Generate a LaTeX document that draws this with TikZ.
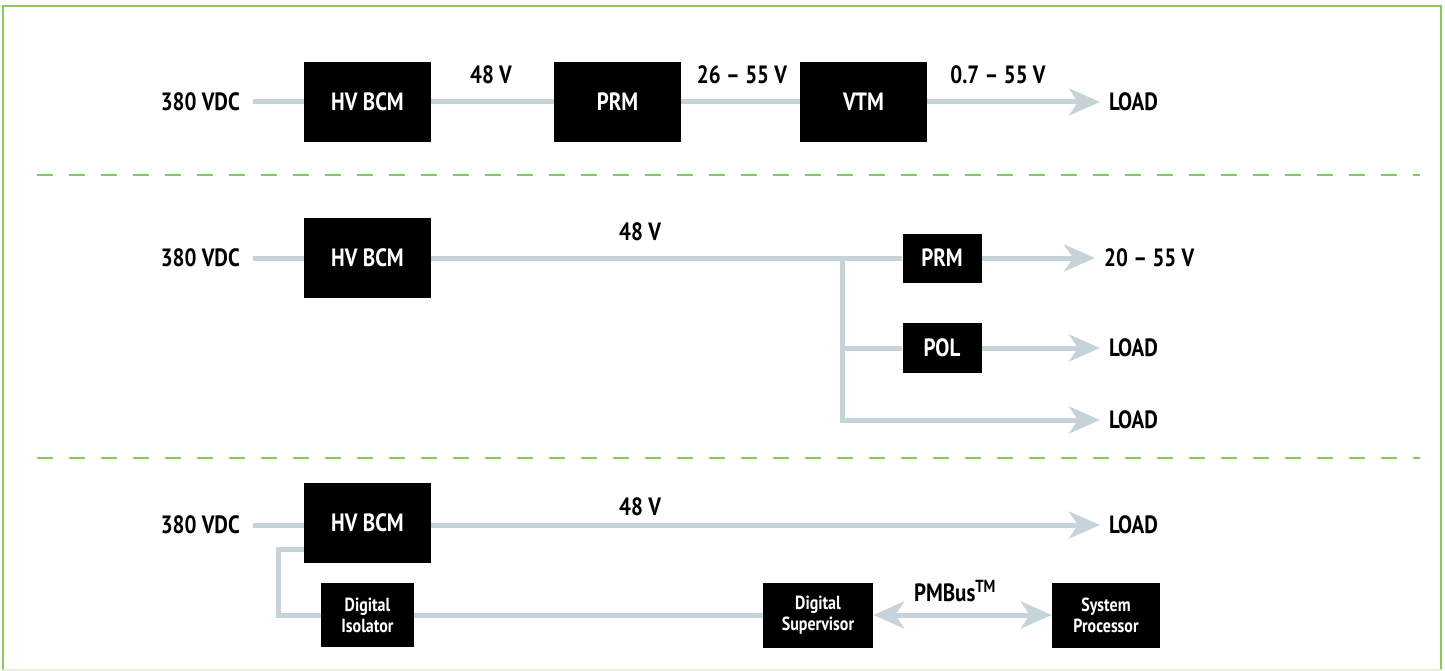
\documentclass[tikz,border=0pt]{standalone}
\usepackage{fontspec}
\setmainfont{PT Sans}[FakeStretch=0.84]
\usetikzlibrary{arrows.meta}
\definecolor{wire}{HTML}{C6D3D8}
\definecolor{frame}{HTML}{86C95E}
\definecolor{framelt}{HTML}{E6F3DC}
\begin{document}
\begin{tikzpicture}[x=1pt,y=-1pt,
  blk/.style={fill=black,text=white,font=\fontsize{25}{28}\selectfont\bfseries,inner sep=0pt,minimum width=127pt,minimum height=80pt,align=center},
  sblk/.style={fill=black,text=white,font=\fontsize{19}{21}\selectfont\bfseries,inner sep=0pt,align=center},
  lbl/.style={font=\fontsize{25}{28}\selectfont\bfseries,inner sep=0pt},
  wireline/.style={draw=wire,line width=5pt},
  arr/.style={wireline,-{Stealth[length=31pt,width=27pt,inset=9pt]}},
  darr/.style={wireline,{Stealth[length=31pt,width=27pt,inset=9pt]}-{Stealth[length=31pt,width=27pt,inset=9pt]}},
  sep/.style={draw=frame,line width=1.5pt,dash pattern=on 16pt off 16pt}
  ]
\useasboundingbox (0,0) rectangle (1445,671);
% frame
\draw[frame,line width=2pt] (2.5,670) -- (2.5,6.5) -- (1440.5,6.5) -- (1440.5,670);
\draw[framelt,line width=1.5pt] (2.5,670) -- (1440.5,670);
% separators
\coordinate (s1a) at (37,175); \coordinate (s1b) at (1420,175);
\coordinate (s2a) at (37,458); \coordinate (s2b) at (1420,458);
\draw[sep] (s1a) -- (s1b);
\draw[sep] (s2a) -- (s2b);

% ---------- row 1 ----------
\node[lbl,anchor=east] (in1) at (240,102) {380 VDC};
\node[blk] (b1) at (367.5,102) {HV BCM};
\node[blk] (p1) at (617.5,102) {PRM};
\node[blk] (v1) at (863.5,102) {VTM};
\node[lbl,anchor=west] (o1) at (1109,102) {LOAD};
\node[lbl] (l1a) at (491,75) {48 V};
\node[lbl] (l1b) at (742,75) {26 – 55 V};
\node[lbl] (l1c) at (998,75) {0.7 – 55 V};
\draw[wireline,shorten <=13pt] (in1.east) -- (b1.west);
\draw[wireline] (b1.east) -- (p1.west);
\draw[wireline] (p1.east) -- (v1.west);
\draw[arr,shorten >=9pt] (v1.east) -- (o1.west);

% ---------- row 2 ----------
\node[lbl,anchor=east] (in2) at (240,258) {380 VDC};
\node[blk] (b2) at (367.5,258) {HV BCM};
\node[lbl] (l2a) at (640,232) {48 V};
\node[blk,minimum width=79pt,minimum height=49pt] (p2) at (942,258) {PRM};
\node[blk,minimum width=79pt,minimum height=50pt] (pol) at (942,348) {POL};
\coordinate (br) at (842,258);
\coordinate (brb) at (842,420);
\node[lbl,anchor=west] (o2a) at (1104,258) {20 – 55 V};
\node[lbl,anchor=west] (o2b) at (1109,348) {LOAD};
\node[lbl,anchor=west] (o2c) at (1109,420) {LOAD};
\draw[wireline,shorten <=13pt] (in2.east) -- (b2.west);
\draw[wireline] (b2.east) -- (p2.west);
\draw[wireline] (br) -- (brb);
\draw[wireline] (br |- pol) -- (pol.west);
\draw[arr,shorten >=9pt] (p2.east) -- (o2a.west);
\draw[arr,shorten >=9pt] (pol.east) -- (o2b.west);
\draw[arr,shorten >=9pt,shorten <=-2.5pt] (brb) -- (o2c.west);

% ---------- row 3 ----------
\node[lbl,anchor=east] (in3) at (240,525) {380 VDC};
\node[blk] (b3) at (367.5,523) {HV BCM};
\node[lbl] (l3a) at (640,507) {48 V};
\node[lbl,anchor=west] (o3) at (1109,525) {LOAD};
\node[sblk,minimum width=93pt,minimum height=64pt] (iso) at (367.5,615) {Digital\\Isolator};
\node[sblk,minimum width=110pt,minimum height=65pt] (sup) at (818,615) {Digital\\Supervisor};
\node[sblk,minimum width=108pt,minimum height=65pt] (sys) at (1106,615) {System\\Processor};
\node[lbl] (pmb) at (955,591) {PMBus\textsuperscript{TM}};
\coordinate (fb) at (278,549);
\draw[wireline,shorten <=13pt] (in3.east) -- (b3.west |- in3.east);
\draw[arr,shorten >=9pt] (b3.east |- o3.west) -- (o3.west);
\draw[wireline,line join=miter] (b3.west |- fb) -- (fb) |- (iso.west);
\draw[wireline] (iso.east) -- (sup.west);
\draw[darr] (sup.east) -- (sys.west);
\end{tikzpicture}
\end{document}
